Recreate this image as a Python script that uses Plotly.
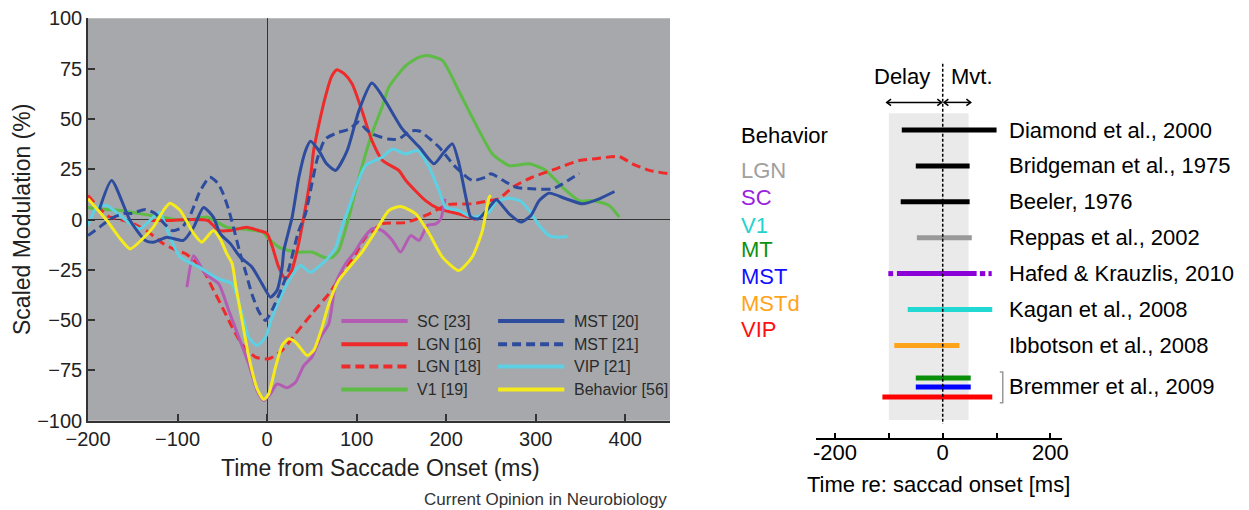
import plotly.graph_objects as go

W, H = 1249, 510
FONT = "Liberation Sans, Arial, Helvetica, sans-serif"

# ---------------- left panel: scaled modulation around saccades ----------------
sc_t = [-89.5, -82, -69, -54, -43, -31.6, -20.5, -11.2, -3.7, 3.8, 11.2, 22.4, 31.8, 41, 50,
        59.7, 69, 76.5, 87.7, 99, 106, 117.4, 128.6, 140, 149, 160.4, 169.7, 179, 188.4, 194, 198.8]
sc_v = [-33.6, -18, -27, -32, -45, -58.5, -71.7, -85, -90, -86.6, -81.7, -83.6, -80.9, -72.6, -68.4,
        -58.5, -51.8, -32, -22, -15.4, -10.4, -4.6, -5.5, -10.4, -16.2, -8, -10.4, -3, -2.2, 0.3, 10.3]

lgn16_t = [-130, -108, -90, -66, -54, -41, -23, -9, 0, 6, 13, 20.5, 27, 33.6, 41, 48.5, 52, 58, 65,
           72, 78, 86, 95, 106, 117, 129, 147, 155, 177, 192, 214, 233]
lgn16_v = [-0.5, -0.5, 0, -0.5, -5.5, -5.5, -3.8, -5.5, -7, -13.7, -23.7, -29.5, -26, -15.4, 1.2, 21,
           34.3, 47.5, 60.8, 71, 74.4, 72.5, 67.4, 54, 39.3, 29.3, 24.4, 19.4, 9.4, 5.3, 2.8, 0]

lgn18_t = [-200, -188, -177, -153, -135, -116, -101, -91, -80, -69, -61.5, -50, -39, -28, -13, 2,
           16.8, 31.8, 50, 69, 84, 99, 110, 128.6, 154.8, 177, 192, 203, 229, 248, 259, 274, 296,
           322.6, 348.7, 367, 393, 408, 427, 450]
lgn18_v = [12, 6, 1.5, -1.3, -5.5, -12, -15.4, -17, -21, -27, -33.6, -43.6, -53.5, -62, -68.4, -69.2,
           -65.1, -56.8, -46.9, -36.9, -27, -17, -8.8, -2.2, -1.5, 2, 5.3, 7.5, 7.8, 9.4, 10.3, 16, 21,
           25.2, 29.3, 30.2, 31.3, 27.7, 24.4, 22.7]

v1_t = [-200, -190.5, -164, -127, -90, -67.5, -45, -22.7, -4, 0, 13, 31.8, 50, 65, 73, 80, 91.4,
        100.7, 117, 128.6, 136, 155, 170, 179, 196, 214, 237, 251.7, 270.4, 292.7, 311.4, 330,
        348.7, 363.5, 382, 393.4]
v1_v = [6, 5.3, 4.5, 1.8, -0.5, 1.2, -3.8, -5, -6.3, -8.8, -13.7, -16.2, -16.2, -19, -18.7, -15.4,
        1.2, 17.7, 42.6, 56, 65.8, 76.5, 80.7, 81.5, 79, 64, 44, 32.6, 26.8, 27.7, 24.4, 16, 9.4,
        9.4, 7, 1.2]

vip_t = [-200, -190.5, -179, -171, -153, -142, -127, -120, -108.5, -97, -76, -54, -39, -28, -20.5,
         -11.2, -1.8, 5.6, 20.5, 31.8, 37.4, 48.5, 61.5, 69, 76.5, 84, 91.4, 100, 110, 128.6, 140,
         154.8, 167.8, 181, 192, 199.5, 214, 229, 248, 255.5, 270.4, 283.4, 292.7, 304, 315, 326,
         335.6]
vip_v = [-3, 6, 7, 4.5, -2, -4.6, 1.2, 3.6, -8.8, -18.7, -23.7, -29.5, -32, -46.9, -58.5, -62.6,
         -58.5, -48.6, -33.6, -25.4, -22.9, -26.2, -22, -18.7, -14, -3, 6, 17, 26.8, 31, 35, 32.6,
         34.3, 26, 14.4, 6, 4.5, 1.2, 3.6, 8.6, 10.6, 9.1, 4.5, -3, -8, -8.8, -8.5]

mst20_t = [-188, -173.6, -153, -136, -127, -112, -93.5, -82, -71, -60, -52.5, -41, -30, -16.8, -5.6,
           3.8, 11, 16.8, 18.7, 28, 35.5, 43, 48.5, 57.8, 66, 76.5, 89.5, 102.5, 117, 132, 151, 170,
           186.5, 197.7, 207, 214.4, 222, 227.5, 236, 248, 256, 270.4, 283.4, 294.6, 304, 315,
           333.8, 352.3, 371, 388]
mst20_v = [4, 19.4, -0.5, -10.4, -11.3, -8.8, -10.4, -3.8, 6, 1.2, -7, -12, -18.7, -23.7, -32,
           -38.6, -35.3, -23.7, -15.4, 1.2, 21, 34.3, 38.9, 34.3, 28, 24.4, 34.3, 54, 67.8, 59, 45,
           36, 27.7, 33.5, 37.6, 27.7, 11.1, 1.2, 0.3, 6, 9.8, 2.8, -1.3, 2, 9.4, 13.1, 10.3, 7.8,
           10.3, 13.9]

mst21_t = [-200, -187, -175, -160, -151, -136, -125, -115, -106, -95, -85, -75, -64, -55, -49, -43,
           -37.6, -30, -24, -17, -9, -1.8, 5.6, 16.8, 24, 35, 43, 50, 56, 65, 78, 92, 102.5, 110,
           117, 135, 147, 160, 170, 182, 192, 210.7, 229.3, 244, 250, 266.7, 278, 300, 318.8, 330,
           348.7]
mst21_v = [-8, -3.8, 0.3, 3, 3, 5, 3, -2, -5.5, -4, 3, 14, 21, 18, 12.8, 5, -3.8, -17, -26, -37,
           -46, -50.2, -45, -33.6, -25, -6, 3, 17.7, 30, 40, 43, 45, 48.4, 45, 42.6, 40, 40, 44, 44,
           40, 36, 26, 19.4, 21, 22.7, 18.6, 16, 15.2, 15.2, 17.7, 23]

beh_t = [-200, -179, -165, -153, -140, -127, -115, -108.5, -97, -82, -73, -60, -52, -45, -39, -35,
         -28, -20.5, -11.2, -3.7, 1.9, 9.4, 16.8, 24, 31.8, 44.7, 52, 61.5, 69, 80, 95, 106, 121.6,
         136, 149, 166, 181, 195.8, 214, 229, 240.5, 248, 250]
beh_v = [10.3, -0.5, -9, -14.6, -10, -3.8, 5, 8.1, 4.5, -7, -11.3, -5.5, -10, -17, -22, -33, -50,
         -68, -84, -89.5, -86.6, -73.4, -62.6, -59.3, -61, -67.6, -65.1, -53.5, -41.9, -30.3, -22,
         -16.2, -5.5, 4.5, 6.5, 2.8, -7, -18.7, -25.4, -18.7, -5.5, 11.1, 12]

series = [
    # name, times, values, colour, dash
    ("V1 [19]", v1_t, v1_v, "#5DBB46", "solid"),
    ("LGN [18]", lgn18_t, lgn18_v, "#EE2A2A", "9px,5px"),
    ("LGN [16]", lgn16_t, lgn16_v, "#EE2A2A", "solid"),
    ("SC [23]", sc_t, sc_v, "#B45CB4", "solid"),
    ("VIP [21]", vip_t, vip_v, "#5DD0E4", "solid"),
    ("MST [21]", mst21_t, mst21_v, "#2E4C9E", "9px,5px"),
    ("MST [20]", mst20_t, mst20_v, "#2E4C9E", "solid"),
    ("Behavior [56]", beh_t, beh_v, "#F4EA1C", "solid"),
]
legend_cols = [["SC [23]", "LGN [16]", "LGN [18]", "V1 [19]"],
               ["MST [20]", "MST [21]", "VIP [21]", "Behavior [56]"]]
x_ticks = [-200, -100, 0, 100, 200, 300, 400]
y_ticks = [-100, -75, -50, -25, 0, 25, 50, 75, 100]

# ---------------- right panel: timing of perisaccadic effects ----------------
study_names = ["Diamond et al., 2000", "Bridgeman et al., 1975", "Beeler, 1976",
               "Reppas et al., 2002", "Hafed & Krauzlis, 2010", "Kagan et al., 2008",
               "Ibbotson et al., 2008", "Bremmer et al., 2009"]
bar_start = [-76, -50, -78, -48, -85, -65, -90, -50, -50, -112]
bar_end = [100, 50, 50, 54, 63, 92, 31, 52, 52, 92]
bar_colors = ["#000000", "#000000", "#000000", "#999999", "#8C00D8", "#22D8D2", "#FFA31A",
              "#0A8F0A", "#0000FF", "#FF0000"]
hafed_extra = [(-101, -92), (69, 79), (85, 91)]
area_names = ["Behavior", "LGN", "SC", "V1", "MT", "MST", "MSTd", "VIP"]
area_colors = ["#000000", "#A0A0A0", "#9A22E0", "#1FD3CF", "#109010", "#1010FF", "#FFA31A", "#FF1010"]
delay_window = (-100, 48)

# row layout of the right panel (in row units, top to bottom)
bar_rows = [0, 1, 2, 3, 4, 5, 6, 6.91, 7.16, 7.44]
study_rows = [0, 1, 2, 3, 4, 5, 6, 7.15]
area_rows = [0.14, 1.13, 1.89, 2.65, 3.34, 4.09, 4.82, 5.57]


def fx(p):
    return p / W


def fy(p):
    return 1 - p / H


fig = go.Figure()

for name, t, v, col, dash in series:
    fig.add_trace(go.Scatter(x=t, y=v, mode="lines", name=name, xaxis="x", yaxis="y",
                             line=dict(color=col, width=3, dash=dash, shape="spline", smoothing=0.6),
                             hoverinfo="skip"))

for i, (s, e) in enumerate(zip(bar_start, bar_end)):
    fig.add_trace(go.Scatter(x=[s, e], y=[bar_rows[i], bar_rows[i]], mode="lines", xaxis="x2",
                             yaxis="y2", line=dict(color=bar_colors[i], width=5), hoverinfo="skip"))
for s, e in hafed_extra:
    fig.add_trace(go.Scatter(x=[s, e], y=[bar_rows[4], bar_rows[4]], mode="lines", xaxis="x2",
                             yaxis="y2", line=dict(color=bar_colors[4], width=5), hoverinfo="skip"))

shapes = []
annotations = []

# grey plotting area of the left panel
shapes.append(dict(type="rect", xref="x domain", yref="y domain", x0=0, x1=1, y0=0, y1=1,
                   fillcolor="#A6A8AB", line=dict(width=0), layer="below"))

# legend of the left panel
lg_line_x = [(83, 157), (258, 332)]
lg_text_x = [165, 340]
lg_rows = [-50.5, -62, -73, -84.5]
style = {n: (c, d) for n, _, _, c, d in series}
for ci, col_names in enumerate(legend_cols):
    for ri, n in enumerate(col_names):
        c, d = style[n]
        shapes.append(dict(type="line", xref="x", yref="y", x0=lg_line_x[ci][0], x1=lg_line_x[ci][1],
                           y0=lg_rows[ri], y1=lg_rows[ri], line=dict(color=c, width=4, dash=d)))
        annotations.append(dict(xref="x", yref="y", x=lg_text_x[ci], y=lg_rows[ri], text=n,
                                showarrow=False, xanchor="left", yanchor="middle",
                                font=dict(size=16, color="#2A2A2A", family=FONT)))

# right panel: delay window, saccade onset line, arrows, bracket
shapes.append(dict(type="rect", xref="x2", yref="y2", x0=delay_window[0], x1=delay_window[1],
                   y0=-0.47, y1=8.08, fillcolor="#EAEAEA", line=dict(width=0), layer="below"))
shapes.append(dict(type="line", xref="x2", yref="y2", x0=0, x1=0, y0=-1.85, y1=8.19,
                   line=dict(color="#000000", width=1.5, dash="3px,2px")))
arrow_y = -0.77
for x0, x1 in [(-104, -2), (2.5, 52)]:
    shapes.append(dict(type="line", xref="x2", yref="y2", x0=x0, x1=x1, y0=arrow_y, y1=arrow_y,
                       line=dict(color="#000000", width=1.5)))
    for tip, sgn in [(x0, 1), (x1, -1)]:
        shapes.append(dict(type="path", xref="x2", yref="y2",
                           path=f"M {tip + sgn * 8},{arrow_y - 0.09} L {tip},{arrow_y} L {tip + sgn * 8},{arrow_y + 0.09}",
                           line=dict(color="#000000", width=1.5)))
shapes.append(dict(type="path", xref="x2", yref="y2",
                   path="M 106,6.74 L 111.5,6.74 L 111.5,7.6 L 106,7.6",
                   line=dict(color="#999999", width=1.5)))


def label(**kw):
    base = dict(showarrow=False, xanchor="center", yanchor="middle")
    base.update(kw)
    annotations.append(base)


label(xref="x2", yref="y2", x=-76, y=-1.5, text="Delay",
      font=dict(size=22, color="#000000", family=FONT))
label(xref="x2", yref="y2", x=55, y=-1.5, text="Mvt.",
      font=dict(size=22, color="#000000", family=FONT))
for name, r in zip(study_names, study_rows):
    label(xref="x2", yref="y2", x=119, y=r, text=name, xanchor="left",
          font=dict(size=22, color="#000000", family=FONT))
for name, c, r in zip(area_names, area_colors, area_rows):
    label(xref="paper", yref="y2", x=fx(739), y=r, text=name, xanchor="left",
          font=dict(size=22, color=c, family=FONT))

# axis titles and source line
label(xref="paper", yref="paper", x=fx(381), y=fy(468), text="Time from Saccade Onset (ms)",
      font=dict(size=23, color="#222222", family=FONT))
label(xref="paper", yref="paper", x=fx(22), y=fy(220), text="Scaled Modulation (%)", textangle=-90,
      font=dict(size=23, color="#222222", family=FONT))
label(xref="paper", yref="paper", x=fx(938), y=fy(484), text="Time re: saccad onset [ms]",
      font=dict(size=22, color="#000000", family=FONT))
label(xref="paper", yref="paper", x=fx(669), y=fy(499), text="Current Opinion in Neurobiology",
      xanchor="right", font=dict(size=17, color="#333333", family=FONT))


def minus(v):
    return str(v).replace("-", "\u2212")


fig.update_layout(
    width=W, height=H, margin=dict(l=0, r=0, t=0, b=0, autoexpand=False),
    paper_bgcolor="white", plot_bgcolor="rgba(0,0,0,0)", showlegend=False,
    xaxis=dict(domain=[fx(88), fx(670)], range=[-200, 450], anchor="y", automargin=False,
               tickvals=x_ticks, ticktext=[minus(v) for v in x_ticks],
               ticks="inside", ticklen=7, tickwidth=1.5, tickcolor="#333333",
               showline=True, linecolor="#333333", linewidth=1.5, showgrid=False,
               zeroline=True, zerolinecolor="#333333", zerolinewidth=1.2,
               tickfont=dict(size=20, color="#222222", family=FONT)),
    yaxis=dict(domain=[fy(420.7), fy(18.3)], range=[-100, 100], anchor="x", automargin=False,
               tickvals=y_ticks, ticktext=[minus(v) for v in y_ticks],
               ticks="inside", ticklen=7, tickwidth=1.5, tickcolor="#333333",
               showline=True, linecolor="#333333", linewidth=1.5, showgrid=False,
               zeroline=True, zerolinecolor="#333333", zerolinewidth=1.2,
               tickfont=dict(size=20, color="#222222", family=FONT)),
    xaxis2=dict(domain=[fx(816), fx(1062)], range=[-235.3, 221.5], anchor="y2", automargin=False,
                tickvals=[-200, -100, 0, 100, 200], ticktext=["-200", "", "0", "", "200"],
                ticks="inside", ticklen=5, tickwidth=1.5, tickcolor="#000000",
                ticklabelstandoff=-6,
                showline=True, linecolor="#000000", linewidth=2, showgrid=False, zeroline=False,
                tickfont=dict(size=22, color="#000000", family=FONT)),
    yaxis2=dict(domain=[fy(438), fy(50)], range=[8.58, -2.23], anchor="x2", automargin=False,
                visible=False, showgrid=False, zeroline=False),
    shapes=shapes, annotations=annotations,
)

fig.write_html("out.html")
